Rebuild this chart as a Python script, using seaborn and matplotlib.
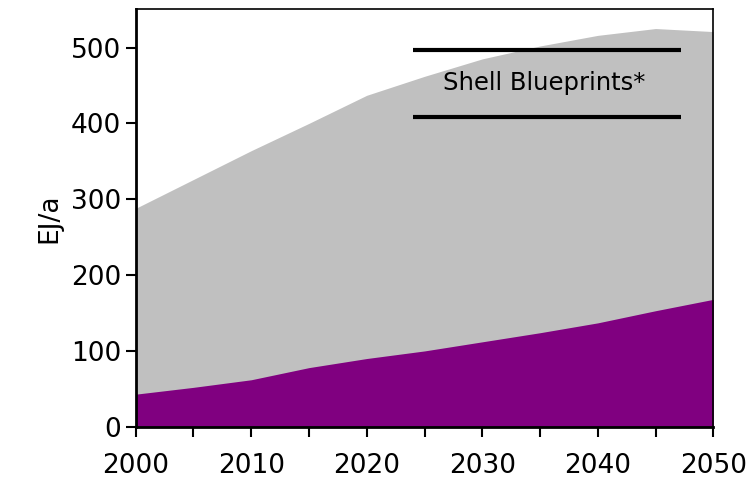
import numpy as np
import pandas as pd
import matplotlib
matplotlib.use("Agg")
import matplotlib.pyplot as plt
import seaborn as sns

years = [2000, 2005, 2010, 2015, 2020, 2025, 2030, 2035, 2040, 2045, 2050]
total = [288, 326, 364, 400, 437, 462, 485, 502, 516, 525, 521]
purple_part = [43, 52, 62, 78, 90, 100, 112, 124, 137, 153, 168]
tick_years = list(range(2000, 2051, 5))
tick_labels = [str(y) if y % 10 == 0 else "" for y in tick_years]

df = pd.DataFrame({"year": years, "total": total, "purple": purple_part})

sns.set_style("ticks")
plt.rcParams['font.family'] = ['DejaVu Sans']
plt.rcParams['text.color'] = 'black'
plt.rcParams['xtick.color'] = 'black'
plt.rcParams['ytick.color'] = 'black'
plt.rcParams['axes.labelcolor'] = 'black'

fig = plt.figure(figsize=(7.54, 4.90), dpi=100)
ax = fig.add_axes([0.180, 0.129, 0.766, 0.853])

sns.lineplot(x="year", y="total", data=df, ax=ax, color="#C0C0C0", linewidth=0)
sns.lineplot(x="year", y="purple", data=df, ax=ax, color="#800080", linewidth=0)
ax.fill_between(df["year"], 0, df["total"], color="#C0C0C0", linewidth=0)
ax.fill_between(df["year"], 0, df["purple"], color="#800080", linewidth=0)

# label box
ax.hlines([497, 409], 2024, 2047.2, color="black", linewidth=3)
ax.text(2035.4, 453, "Shell Blueprints*", ha="center", va="center", fontsize=17.5)

ax.set_xlim(2000, 2050)
ax.set_ylim(0, 551)
ax.set_xticks(tick_years)
ax.set_xticklabels(tick_labels)
ax.set_yticks(range(0, 501, 100))
ax.tick_params(axis="both", labelsize=19, length=7, width=1.5, color="black", direction="out")
ax.tick_params(axis="x", pad=12)
ax.set_xlabel("")
ax.set_ylabel("EJ/a", fontsize=19, labelpad=6)

for side in ["left", "bottom"]:
    ax.spines[side].set_linewidth(2)
for side in ["top", "right"]:
    ax.spines[side].set_linewidth(1.2)
for s in ax.spines.values():
    s.set_color("black")
    s.set_visible(True)

fig.savefig("out.png", dpi=100)
